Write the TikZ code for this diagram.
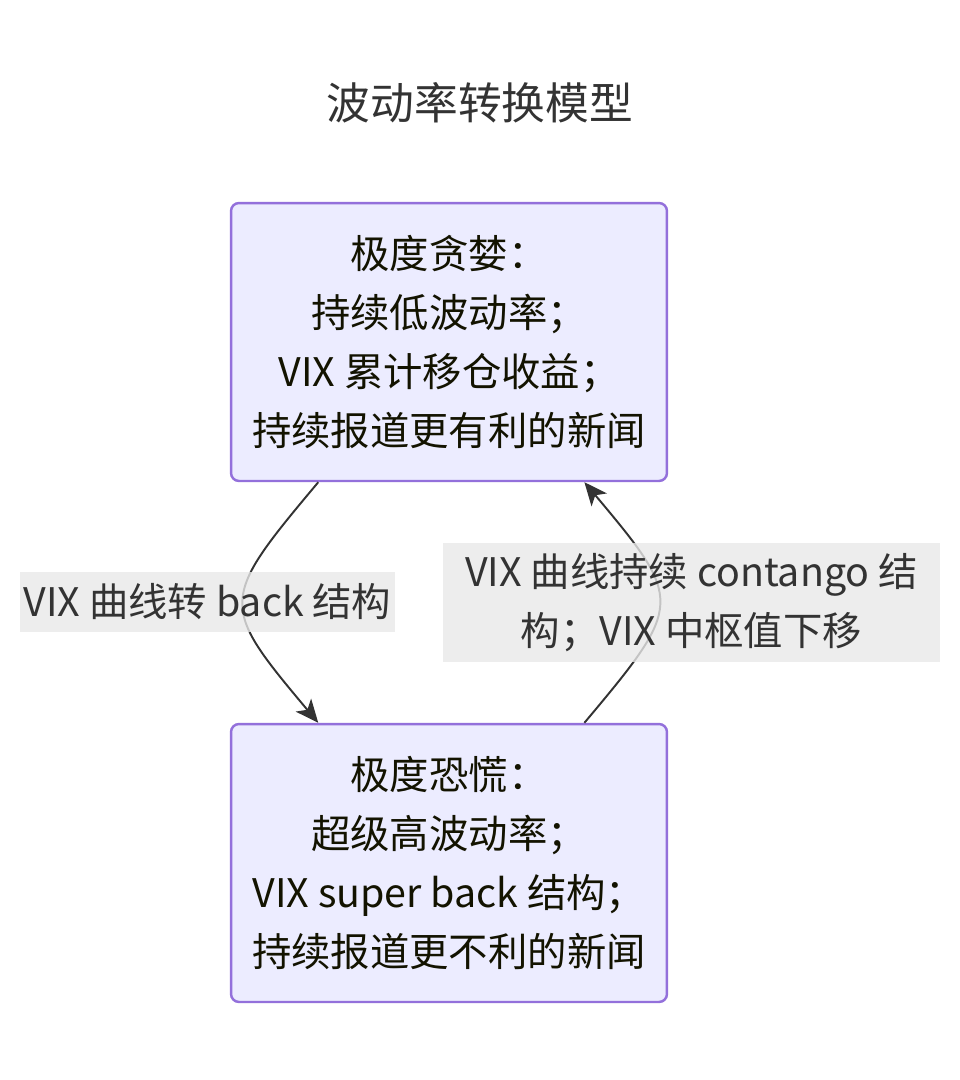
\documentclass[tikz,border=0pt]{standalone}
\usepackage{fontspec}
\setmainfont{Noto Sans CJK SC}
\usetikzlibrary{arrows.meta}
\definecolor{boxfill}{RGB}{236,236,255}
\definecolor{boxline}{RGB}{147,112,219}
\definecolor{edgeline}{RGB}{51,51,51}
\definecolor{labelfill}{RGB}{232,232,232}
\definecolor{nodetext}{RGB}{19,19,0}

\begin{document}
\begin{tikzpicture}[x = 0.02cm, y = -0.02cm,
    state/.style = {draw = boxline, fill = boxfill, line width = 1.4pt,
      rounded corners = 4.5pt, minimum width = 8.72cm, minimum height = 5.56cm,
      inner sep = 0pt, align = center, text = nodetext,
      font = \fontsize{22.4}{33.7}\selectfont},
    flow/.style = {draw = edgeline, line width = 1.1pt,
      -{Stealth[length = 0.46cm, width = 0.4cm, inset = 0.12cm]}},
    flowlabel/.style = {fill = labelfill, fill opacity = 0.8, text opacity = 1,
      text = edgeline, inner sep = 0pt, align = center,
      font = \fontsize{22.4}{33.7}\selectfont}]
  \useasboundingbox (0, 0) rectangle (960, 1080);

  \node[text = edgeline, font = \fontsize{24.9}{30}\selectfont]
    (title) at (480, 103) {波动率转换模型};

  \node[state] (greed) at (449, 342)
    {极度贪婪：\\持续低波动率；\\VIX 累计移仓收益；\\持续报道更有利的新闻};
  \node[state] (panic) at (449, 863)
    {极度恐慌：\\超级高波动率；\\VIX super back 结构；\\持续报道更不利的新闻};

  \draw[flow] (greed.227) to[out = 230, in = 130, looseness = 1.65] (panic.133);
  \draw[flow] (panic.46) to[out = 50, in = -50, looseness = 1.65] (greed.314);

  \node[flowlabel, minimum width = 7.5cm, minimum height = 1.2cm]
    (tobackward) at (207.5, 602) {VIX 曲线转 back 结构};
  \node[flowlabel, minimum width = 9.94cm, minimum height = 2.38cm]
    (tocontango) at (691.5, 602.5) {VIX 曲线持续 contango 结\\构；VIX 中枢值下移};

\end{tikzpicture}
\end{document}
